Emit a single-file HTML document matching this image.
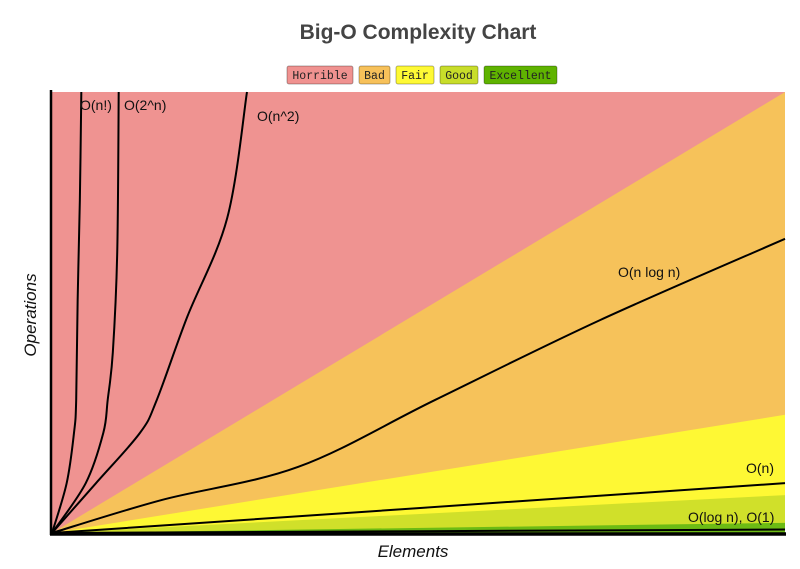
<!DOCTYPE html>
<html><head><meta charset="utf-8"><style>
body{margin:0;background:#fff;width:800px;height:564px;overflow:hidden;font-family:"Liberation Sans",sans-serif}
</style></head><body>
<svg id="chart" width="800" height="564">
<text x="418" y="39" text-anchor="middle" font-size="21" font-weight="bold" fill="#444">Big-O Complexity Chart</text>
<g id="legend"></g>
<g id="bands"></g>
<g id="curves"></g>
<line x1="51" y1="90" x2="51" y2="535" stroke="#000" stroke-width="2.5"/>
<line x1="50" y1="534" x2="786" y2="534" stroke="#000" stroke-width="3.5"/>
<text x="413" y="557" text-anchor="middle" font-size="17" font-style="italic" fill="#111">Elements</text>
<text transform="translate(36,315) rotate(-90)" text-anchor="middle" font-size="17" font-style="italic" fill="#111">Operations</text>
</svg>
<script>
const legendNames=["Horrible","Bad","Fair","Good","Excellent"];
const legendColors=["#f09290","#f7c15a","#fef935","#c8dd2a","#5fb300"];
const bandTops=[100,100,26.8,8.6,2.3];
const bandNames=["horrible","bad","fair","good","excellent"];
const bandColors=["#ef9391","#f6c25a","#fef834","#d0e02a","#6cbb14"];
const nfactX=[0,2.0,3.0,3.3,3.5,3.8,4.0];
const nfactY=[0,11.3,22.7,30.2,52.8,75.5,100];
const exp2X=[0,4.6,7.0,7.6,8.3,8.9,9.1];
const exp2Y=[0,11.3,22.7,30.2,41.0,63.7,100];
const sqX=[0,6.0,12.0,14.3,18.4,23.9,26.6];
const sqY=[0,11.3,22.7,30.2,48.8,71.4,100];
const nlognX=[0,15,33.6,52.3,74.8,100];
const nlognY=[0,7.5,15,30.2,48.3,66.7];
const linX=[0,100];
const linY=[0,11.3];
const logX=[0,100];
const logY=[0,0.8];
const X0=52,X1=785,Y0=533,Y1=92;
const sx=v=>X0+(X1-X0)*v/100, sy=v=>Y0-(Y0-Y1)*v/100;
const NS="http://www.w3.org/2000/svg";
const lg=document.getElementById('legend');
let lx=287;
legendNames.forEach((n,i)=>{
  const w=n.length*7+10;
  const r=document.createElementNS(NS,'rect');
  r.setAttribute('x',lx);r.setAttribute('y',66);r.setAttribute('width',w);r.setAttribute('height',18);r.setAttribute('rx',2);
  r.setAttribute('fill',legendColors[i]);r.setAttribute('stroke','rgba(0,0,0,0.3)');
  
  
  lg.appendChild(r);
  const t=document.createElementNS(NS,'text');
  t.setAttribute('x',lx+w/2);t.setAttribute('y',79);t.setAttribute('text-anchor','middle');
  t.setAttribute('font-family','"Liberation Mono",monospace');t.setAttribute('font-size','11.5');t.setAttribute('fill','#222');
  t.textContent=n;
  
  
  lg.appendChild(t);
  lx+=w+6;
});
const bg=document.getElementById('bands');
bandTops.forEach((v,i)=>{
  const p=document.createElementNS(NS,'path');
  let d;
  if(i===0) d=`M${sx(0)},${sy(0)} L${sx(0)},${sy(100)} L${sx(100)},${sy(100)} L${sx(100)},${sy(0)} Z`;
  else d=`M${sx(0)},${sy(0)} L${sx(100)},${sy(v)} L${sx(100)},${sy(0)} Z`;
  p.setAttribute('d',d);p.setAttribute('fill',bandColors[i]);
  
  
  bg.appendChild(p);
});
const cg=document.getElementById('curves');
function curve(xs,ys,name){
  const p=document.createElementNS(NS,'path');
  let pts=xs.map((x,i)=>[sx(x),sy(ys[i])]);
  let d='M'+pts[0][0]+','+pts[0][1];
  for(let i=1;i<pts.length;i++){
    const p0=pts[Math.max(0,i-2)],p1=pts[i-1],p2=pts[i],p3=pts[Math.min(pts.length-1,i+1)];
    const c1=[p1[0]+(p2[0]-p0[0])/6,p1[1]+(p2[1]-p0[1])/6];
    const c2=[p2[0]-(p3[0]-p1[0])/6,p2[1]-(p3[1]-p1[1])/6];
    d+=` C${c1[0]},${c1[1]} ${c2[0]},${c2[1]} ${p2[0]},${p2[1]}`;
  }
  p.setAttribute('d',d);p.setAttribute('fill','none');p.setAttribute('stroke','#000');p.setAttribute('stroke-width','2');
  
  
  cg.appendChild(p);
}
curve(nfactX,nfactY,'line-o-n-factorial');
curve(exp2X,exp2Y,'line-o-2-pow-n');
curve(sqX,sqY,'line-o-n-squared');
curve(nlognX,nlognY,'line-o-n-log-n');
curve(linX,linY,'line-o-n');
curve(logX,logY,'line-o-log-n');
const labels=[["O(n!)",80,110,"label-o-n-factorial"],["O(2^n)",124,110,"label-o-2-pow-n"],["O(n^2)",257,121,"label-o-n-squared"],["O(n log n)",618,277,"label-o-n-log-n"],["O(n)",746,473,"label-o-n"],["O(log n), O(1)",688,522,"label-o-log-n-o-1"]];
labels.forEach(l=>{
  const t=document.createElementNS(NS,'text');
  t.setAttribute('x',l[1]);t.setAttribute('y',l[2]);t.setAttribute('font-size','14');t.setAttribute('fill','#111');
  t.textContent=l[0];
  
  
  cg.appendChild(t);
});
</script>
</body></html>
